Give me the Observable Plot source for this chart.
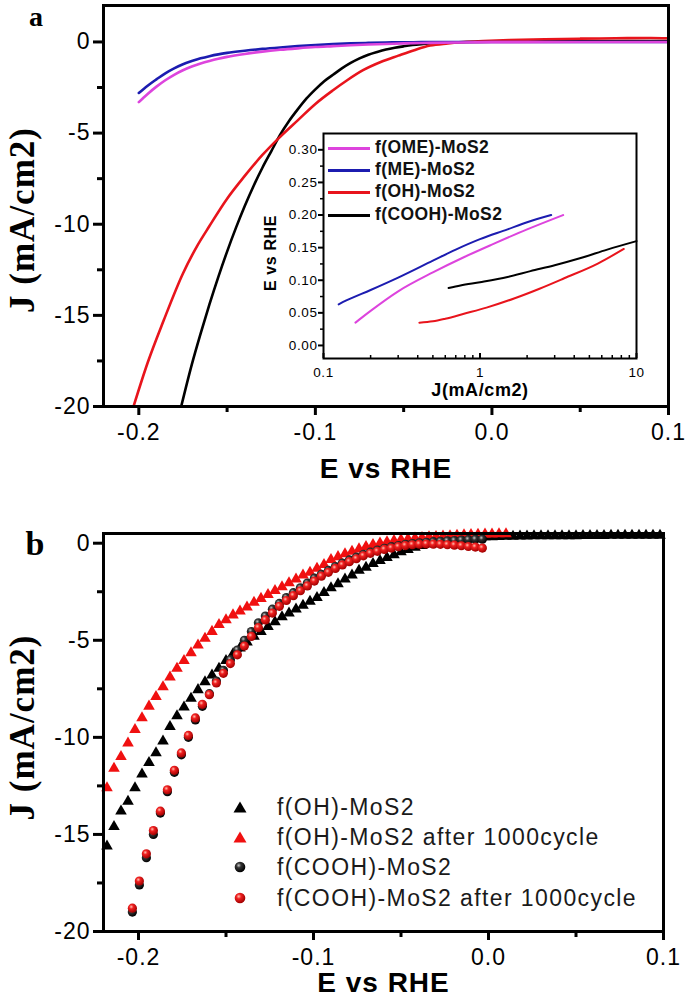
<!DOCTYPE html>
<html><head><meta charset="utf-8">
<script src="https://cdn.jsdelivr.net/npm/d3@7"></script>
<script src="https://cdn.jsdelivr.net/npm/@observablehq/plot@0.6"></script>
<style>
body{margin:0;background:#fff;}
#root{position:relative;width:685px;height:1006px;overflow:hidden;background:#fff;}
.lg{position:absolute;white-space:nowrap;color:#111;}
</style></head><body><div id="root"></div>
<script>
// ---------------- Panel a : LSV curves ----------------
const E_a_ME  = [-0.200,-0.195,-0.190,-0.185,-0.180,-0.175,-0.170,-0.165,-0.160,-0.155,-0.150,-0.140,-0.130,-0.120,-0.110,-0.100,-0.090,-0.080,-0.070,-0.060,-0.050,-0.040,-0.020,0.000,0.050,0.100];
const J_a_ME  = [-2.8,-2.4,-2.05,-1.72,-1.45,-1.22,-1.05,-0.9,-0.78,-0.68,-0.6,-0.48,-0.38,-0.3,-0.23,-0.17,-0.12,-0.08,-0.05,-0.03,-0.02,-0.01,0,0,0,0];
const E_a_OME = [-0.200,-0.195,-0.190,-0.185,-0.180,-0.175,-0.170,-0.165,-0.160,-0.155,-0.150,-0.140,-0.130,-0.120,-0.110,-0.100,-0.090,-0.080,-0.070,-0.060,-0.050,-0.040,-0.020,0.000,0.050,0.100];
const J_a_OME = [-3.3,-2.85,-2.45,-2.1,-1.8,-1.55,-1.35,-1.18,-1.04,-0.92,-0.82,-0.66,-0.53,-0.43,-0.35,-0.28,-0.23,-0.18,-0.14,-0.11,-0.08,-0.06,-0.03,-0.01,0,0];
const E_a_OH  = [-0.203,-0.195,-0.186,-0.175,-0.167,-0.160,-0.150,-0.140,-0.130,-0.121,-0.110,-0.100,-0.090,-0.082,-0.073,-0.063,-0.053,-0.044,-0.035,-0.025,-0.016,-0.005,0.010,0.030,0.050,0.070,0.090,0.100];
const J_a_OH  = [-20,-17.6,-15.3,-12.7,-11.2,-10.1,-8.6,-7.35,-6.2,-5.3,-4.3,-3.4,-2.65,-2.1,-1.55,-1.1,-0.75,-0.45,-0.2,-0.08,0,0.05,0.1,0.15,0.18,0.2,0.22,0.2];
const E_a_COOH = [-0.176,-0.170,-0.165,-0.160,-0.155,-0.150,-0.145,-0.140,-0.135,-0.130,-0.125,-0.120,-0.115,-0.110,-0.105,-0.100,-0.095,-0.090,-0.085,-0.080,-0.075,-0.070,-0.065,-0.060,-0.055,-0.050,-0.045,-0.040,-0.035,-0.030,-0.020,-0.010,0.000,0.050,0.100];
const J_a_COOH = [-20,-17.7,-16.0,-14.4,-12.9,-11.5,-10.2,-9.0,-7.9,-6.9,-6.0,-5.1,-4.35,-3.7,-3.1,-2.6,-2.15,-1.8,-1.45,-1.15,-0.9,-0.7,-0.55,-0.42,-0.32,-0.24,-0.17,-0.12,-0.08,-0.05,-0.02,0,0.02,0.05,0.05];

// ---------------- Inset : Tafel plots ----------------
const J_in_OME = [0.16,0.17,0.2,0.3,0.5,0.8,1.2,2.0,3.4];
const E_in_OME = [0.035,0.04,0.053,0.083,0.112,0.136,0.155,0.178,0.2];
const J_in_ME  = [0.125,0.14,0.2,0.3,0.5,0.7,1.0,1.5,2.0,2.85];
const E_in_ME  = [0.063,0.069,0.085,0.104,0.13,0.147,0.163,0.178,0.189,0.2];
const J_in_OH  = [0.41,0.5,0.6,0.8,1.1,1.65,2.4,3.45,5.7,8.3];
const E_in_OH  = [0.035,0.037,0.041,0.049,0.058,0.072,0.087,0.103,0.126,0.148];
const J_in_COOH = [0.63,0.75,1.0,1.5,2.1,3.0,4.4,6.5,10];
const E_in_COOH = [0.088,0.092,0.097,0.105,0.114,0.123,0.134,0.147,0.16];
const insetLegend = ["f(OME)-MoS2","f(ME)-MoS2","f(OH)-MoS2","f(COOH)-MoS2"];

// ---------------- Panel b : stability ----------------
const E_b_OH = [-0.218,-0.214,-0.210,-0.206,-0.202,-0.198,-0.194,-0.190,-0.186,-0.182,-0.178,-0.174,-0.170,-0.166,-0.162,-0.158,-0.154,-0.150,-0.146,-0.142,-0.138,-0.134,-0.130,-0.126,-0.122,-0.118,-0.114,-0.110,-0.106,-0.102,-0.098,-0.094,-0.090,-0.086,-0.082,-0.078,-0.074,-0.070,-0.066,-0.062,-0.058,-0.054,-0.050,-0.046,-0.042,-0.038,-0.034,-0.030,-0.026,-0.022,-0.018,-0.014,-0.010,-0.006,-0.002,0.002,0.006,0.010,0.014,0.018,0.022,0.026,0.030,0.034,0.038,0.042,0.046,0.050,0.054,0.058,0.062,0.066,0.070,0.074,0.078,0.082,0.086,0.090,0.094,0.098];
const J_b_OH = [-15.6,-14.6,-13.8,-13.3,-12.6,-11.9,-11.3,-10.8,-10.2,-9.45,-8.9,-8.45,-8.0,-7.55,-7.15,-6.8,-6.45,-6.05,-5.7,-5.4,-5.1,-4.8,-4.55,-4.3,-4.05,-3.8,-3.6,-3.4,-3.2,-3.0,-2.8,-2.55,-2.3,-2.1,-1.85,-1.65,-1.4,-1.25,-1.05,-0.9,-0.75,-0.6,-0.45,-0.33,-0.22,-0.12,-0.03,0.05,0.1,0.15,0.2,0.24,0.27,0.3,0.32,0.33,0.34,0.35,0.35,0.36,0.36,0.37,0.37,0.37,0.38,0.38,0.38,0.38,0.39,0.39,0.39,0.39,0.4,0.4,0.4,0.4,0.4,0.4,0.4,0.4];
const E_b_OH_1000 = [-0.218,-0.214,-0.210,-0.206,-0.202,-0.198,-0.194,-0.190,-0.186,-0.182,-0.178,-0.174,-0.170,-0.166,-0.162,-0.158,-0.154,-0.150,-0.146,-0.142,-0.138,-0.134,-0.130,-0.126,-0.122,-0.118,-0.114,-0.110,-0.106,-0.102,-0.098,-0.094,-0.090,-0.086,-0.082,-0.078,-0.074,-0.070,-0.066,-0.062,-0.058,-0.054,-0.050,-0.046,-0.042,-0.038,-0.034,-0.030,-0.026,-0.022,-0.018,-0.014,-0.010,-0.006,-0.002,0.002,0.006,0.010];
const J_b_OH_1000 = [-12.6,-11.6,-11.0,-10.3,-9.6,-9.0,-8.4,-7.9,-7.4,-6.9,-6.45,-6.05,-5.65,-5.25,-4.9,-4.55,-4.2,-3.95,-3.7,-3.5,-3.3,-3.05,-2.85,-2.65,-2.45,-2.25,-2.05,-1.85,-1.65,-1.5,-1.3,-1.1,-0.85,-0.7,-0.55,-0.42,-0.3,-0.18,-0.08,0.0,0.07,0.13,0.18,0.22,0.26,0.29,0.32,0.34,0.36,0.38,0.4,0.42,0.44,0.45,0.46,0.47,0.48,0.48];
const E_b_COOH = [-0.2035,-0.1995,-0.1955,-0.1915,-0.1875,-0.1835,-0.1795,-0.1755,-0.1715,-0.1675,-0.1635,-0.1595,-0.1555,-0.1515,-0.1475,-0.1435,-0.1395,-0.1355,-0.1315,-0.1275,-0.1235,-0.1195,-0.1155,-0.1115,-0.1075,-0.1035,-0.0995,-0.0955,-0.0915,-0.0875,-0.0835,-0.0795,-0.0755,-0.0715,-0.0675,-0.0635,-0.0595,-0.0555,-0.0515,-0.0475,-0.0435,-0.0395,-0.0355,-0.0315,-0.0275,-0.0235,-0.0195,-0.0155,-0.0115,-0.0075,-0.0035];
const J_b_COOH = [-19.0,-17.6,-16.2,-15.0,-13.9,-12.8,-11.8,-10.9,-10.0,-9.1,-8.4,-7.75,-7.1,-6.55,-6.0,-5.5,-5.0,-4.55,-4.1,-3.75,-3.4,-3.1,-2.8,-2.55,-2.3,-2.05,-1.8,-1.6,-1.4,-1.2,-1.02,-0.86,-0.72,-0.58,-0.46,-0.35,-0.26,-0.18,-0.12,-0.06,-0.02,0.02,0.05,0.08,0.1,0.12,0.14,0.16,0.18,0.2,0.21];
const J_b_COOH_1000 = [-18.8,-17.4,-16.0,-14.8,-13.8,-12.7,-11.7,-10.8,-9.9,-9.0,-8.3,-7.8,-7.2,-6.7,-6.2,-5.75,-5.3,-4.8,-4.35,-3.95,-3.6,-3.25,-2.95,-2.7,-2.45,-2.2,-1.95,-1.7,-1.5,-1.3,-1.12,-0.95,-0.8,-0.65,-0.52,-0.42,-0.32,-0.25,-0.18,-0.12,-0.08,-0.05,-0.04,-0.05,-0.06,-0.08,-0.1,-0.13,-0.17,-0.2,-0.25];
const legendB = ["f(OH)-MoS2","f(OH)-MoS2 after 1000cycle","f(COOH)-MoS2","f(COOH)-MoS2 after 1000cycle"];

// ---------------- Ticks ----------------
const xMajor = [-0.2,-0.1,0.0,0.1];
const xMinor = [-0.15,-0.05,0.05];
const yMajor = [0,-5,-10,-15,-20];
const yMinor = [-2.5,-7.5,-12.5,-17.5];
const inYTicks = [0,0.05,0.1,0.15,0.2,0.25,0.3];
const inYMinor = [0.025,0.075,0.125,0.175,0.225,0.275];
const inXTicks = [0.1,1,10];
const inXMinor = [0.2,0.3,0.4,0.5,0.6,0.7,0.8,0.9,2,3,4,5,6,7,8,9];

// ---------------- Drawing ----------------
const root = document.getElementById("root");
const SANS = "'Liberation Sans', Arial, Helvetica, sans-serif";
const SERIF = "'Liberation Serif', 'Times New Roman', serif";
const C = {ME:"#1c1cb0", OME:"#dd44dd", OH:"#e8141c", COOH:"#000000", red:"#f01010"};
const rows = (E, J) => E.map((e, i) => ({E: e, J: J[i]}));
const centered = {textAnchor: "middle", lineAnchor: "middle"};

root.insertAdjacentHTML("beforeend", `<svg width="0" height="0" style="position:absolute"><defs>
<radialGradient id="ballRed" cx="38%" cy="35%" r="65%"><stop offset="0%" stop-color="#ffc0b0"/><stop offset="35%" stop-color="#f02020"/><stop offset="100%" stop-color="#a00000"/></radialGradient>
<radialGradient id="ballBlack" cx="38%" cy="35%" r="65%"><stop offset="0%" stop-color="#c8c8c8"/><stop offset="35%" stop-color="#333"/><stop offset="100%" stop-color="#000"/></radialGradient>
</defs></svg>`);

function place(el, left, top) {
  el.style.position = "absolute"; el.style.left = left + "px"; el.style.top = top + "px";
  root.appendChild(el);
}

function mainAxes() {
  return [
    Plot.frame({stroke: "#000", strokeWidth: 3}),
    Plot.axisX({ticks: xMajor, tickFormat: d => d.toFixed(1), tickSize: 9, tickPadding: 8, stroke: "#000", strokeWidth: 3, label: null, fontSize: 23}),
    Plot.axisX({ticks: xMinor, tickFormat: () => "", tickSize: 6, stroke: "#000", strokeWidth: 3, label: null}),
    Plot.axisY({ticks: yMajor, tickFormat: d => String(d), tickSize: 10, tickPadding: 3, stroke: "#000", strokeWidth: 3, label: null, fontSize: 23}),
    Plot.axisY({ticks: yMinor, tickFormat: () => "", tickSize: 6, stroke: "#000", strokeWidth: 3, label: null})
  ];
}

const plotA = Plot.plot({
  width: 685, height: 490,
  marginLeft: 103, marginRight: 17, marginTop: 5, marginBottom: 84,
  style: {fontFamily: SANS, fontSize: "23px", letterSpacing: "1px"},
  x: {domain: [-0.22, 0.1], label: null},
  y: {domain: [-20, 2], label: null},
  marks: [
    Plot.line(rows(E_a_COOH, J_a_COOH), {x: "E", y: "J", stroke: C.COOH, strokeWidth: 2.6, curve: "monotone-x", clip: true}),
    Plot.line(rows(E_a_OH, J_a_OH), {x: "E", y: "J", stroke: C.OH, strokeWidth: 2.6, curve: "monotone-x", clip: true}),
    Plot.line(rows(E_a_ME, J_a_ME), {x: "E", y: "J", stroke: C.ME, strokeWidth: 2.6, curve: "monotone-x", clip: true}),
    Plot.line(rows(E_a_OME, J_a_OME), {x: "E", y: "J", stroke: C.OME, strokeWidth: 2.6, curve: "monotone-x", clip: true}),
    ...mainAxes(),
    Plot.text(["E vs RHE"], {frameAnchor: "bottom", dy: 63, fontSize: 28, fontWeight: "bold", ...centered}),
    Plot.text(["J (mA/cm2)"], {frameAnchor: "left", dx: -81, dy: 14, rotate: -90, fontSize: 35, fontWeight: "bold", fontFamily: SERIF, ...centered}),
    Plot.text(["a"], {frameAnchor: "top-left", dx: -67, dy: 1, fontSize: 28, fontWeight: "bold", fontFamily: SERIF, textAnchor: "middle", lineAnchor: "top"})
  ]
});
place(plotA, 0, 0);

const plotIn = Plot.plot({
  width: 385, height: 280,
  marginLeft: 60, marginRight: 12, marginTop: 13, marginBottom: 42,
  style: {fontFamily: SANS, fontSize: "13.5px", letterSpacing: "0.6px", background: "transparent"},
  x: {type: "log", domain: [0.1, 10], label: null},
  y: {domain: [-0.02, 0.325], label: null},
  marks: [
    Plot.frame({fill: "white", stroke: "none"}),
    Plot.line(rows(J_in_ME, E_in_ME), {x: "E", y: "J", stroke: C.ME, strokeWidth: 2, curve: "monotone-x"}),
    Plot.line(rows(J_in_OME, E_in_OME), {x: "E", y: "J", stroke: C.OME, strokeWidth: 2, curve: "monotone-x"}),
    Plot.line(rows(J_in_OH, E_in_OH), {x: "E", y: "J", stroke: C.OH, strokeWidth: 2, curve: "monotone-x"}),
    Plot.line(rows(J_in_COOH, E_in_COOH), {x: "E", y: "J", stroke: C.COOH, strokeWidth: 2, curve: "monotone-x"}),
    Plot.frame({stroke: "#000", strokeWidth: 2}),
    Plot.axisY({ticks: inYTicks, tickFormat: d => d.toFixed(2), tickSize: 5, tickPadding: 1, stroke: "#000", strokeWidth: 2, label: null}),
    Plot.axisY({ticks: inYMinor, tickFormat: () => "", tickSize: 3, stroke: "#000", strokeWidth: 1.5, label: null}),
    Plot.axisX({ticks: inXTicks, tickFormat: d => String(d), tickSize: 0, tickPadding: 9, label: null}),
    Plot.axisX({ticks: inXMinor, tickFormat: () => "", tickSize: -3, stroke: "#000", strokeWidth: 1.5, label: null}),
    Plot.axisX({ticks: inXTicks, tickFormat: () => "", tickSize: -5, stroke: "#000", strokeWidth: 2, label: null}),
    Plot.text(["J(mA/cm2)"], {frameAnchor: "bottom", dy: 32, fontSize: 18, fontWeight: "bold", ...centered}),
    Plot.text(["E vs RHE"], {frameAnchor: "left", dx: -53, dy: 7, rotate: -90, fontSize: 16, fontWeight: "bold", ...centered})
  ]
});
place(plotIn, 263, 120);

// inset legend
const inColors = [C.OME, C.ME, C.OH, C.COOH];
const inRowsY = [148, 170, 192, 215];
insetLegend.forEach((lab, i) => {
  const ln = document.createElement("div");
  ln.style.cssText = `position:absolute;left:328px;top:${inRowsY[i]-1}px;width:42px;height:2.5px;background:${inColors[i]};`;
  root.appendChild(ln);
  const t = document.createElement("div");
  t.className = "lg";
  t.textContent = lab;
  t.style.cssText += `left:375px;top:${inRowsY[i]-11}px;font:bold 17.5px ${SANS};line-height:20px;letter-spacing:0.4px;`;
  root.appendChild(t);
});

const plotB = Plot.plot({
  width: 685, height: 516,
  marginLeft: 103, marginRight: 22, marginTop: 43, marginBottom: 75,
  style: {fontFamily: SANS, fontSize: "23px", letterSpacing: "1px"},
  x: {domain: [-0.22, 0.1], label: null},
  y: {domain: [-20, 0.5], label: null},
  marks: [
    Plot.dot(rows(E_b_OH, J_b_OH), {x: "E", y: "J", symbol: "triangle", r: 4.3, fill: "#000", stroke: "none"}),
    Plot.dot(rows(E_b_OH_1000, J_b_OH_1000), {x: "E", y: "J", symbol: "triangle", r: 4.3, fill: C.red, stroke: "none"}),
    Plot.dot(rows(E_b_COOH, J_b_COOH), {x: "E", y: "J", r: 4.6, fill: "url(#ballBlack)", stroke: "none"}),
    Plot.dot(rows(E_b_COOH, J_b_COOH_1000), {x: "E", y: "J", r: 4.6, fill: "url(#ballRed)", stroke: "none"}),
    ...mainAxes(),
    Plot.text(["E vs RHE"], {frameAnchor: "bottom", dy: 52, fontSize: 28, fontWeight: "bold", ...centered}),
    Plot.text(["J (mA/cm2)"], {frameAnchor: "left", dx: -81, dy: -5, rotate: -90, fontSize: 35, fontWeight: "bold", fontFamily: SERIF, ...centered}),
    Plot.text(["b"], {frameAnchor: "top-left", dx: -68, dy: 11, fontSize: 34, fontWeight: "bold", fontFamily: SERIF, ...centered})
  ]
});
place(plotB, 0, 490);

// panel b legend
const bRowsY = [807, 837, 867, 898];
const bSyms = [
  `<path d="M8,2.5 L14.5,13.5 L1.5,13.5 Z" fill="#000"/>`,
  `<path d="M8,2.5 L14.5,13.5 L1.5,13.5 Z" fill="${C.red}"/>`,
  `<circle cx="8" cy="8" r="5.3" fill="url(#ballBlack)"/>`,
  `<circle cx="8" cy="8" r="5.3" fill="url(#ballRed)"/>`
];
legendB.forEach((lab, i) => {
  const s = document.createElement("div");
  s.style.cssText = `position:absolute;left:232px;top:${bRowsY[i]-8}px;width:16px;height:16px;`;
  s.innerHTML = `<svg width="16" height="16" style="overflow:visible">${bSyms[i]}</svg>`;
  root.appendChild(s);
  const t = document.createElement("div");
  t.className = "lg";
  t.textContent = lab;
  t.style.cssText += `left:277px;top:${bRowsY[i]-13}px;font:23px ${SANS};line-height:26px;letter-spacing:1.4px;color:#1a1a1a;`;
  root.appendChild(t);
});
</script>
</body></html>
